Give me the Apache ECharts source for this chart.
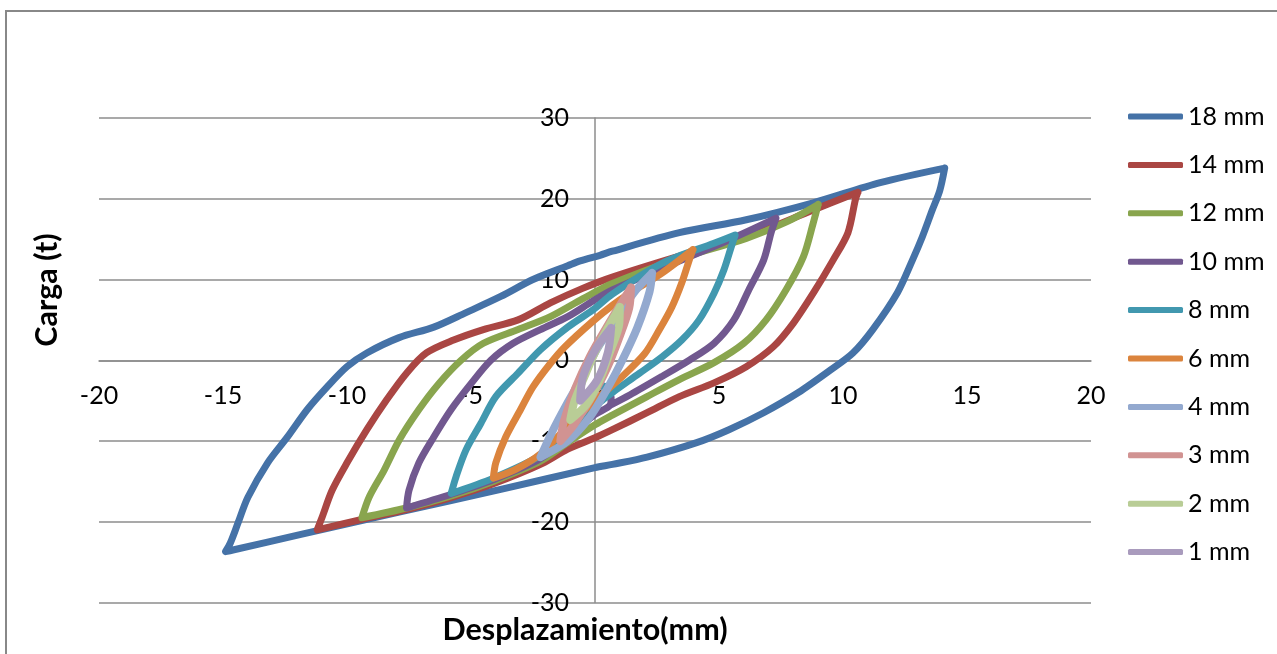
<!DOCTYPE html>
<html><head><meta charset="utf-8">
<script src="https://cdn.jsdelivr.net/npm/echarts/dist/echarts.min.js"></script>
<style>html,body{margin:0;padding:0;background:#fff}#c{width:1277px;height:654px}</style>
</head><body><div id="c"></div><script>
const xTicks=[-20,-15,-10,-5,0,5,10,15,20];
const yTicks=[-30,-20,-10,0,10,20,30];
const seriesNames=['18 mm','14 mm','12 mm','10 mm','8 mm','6 mm','4 mm','3 mm','2 mm','1 mm'];
const seriesColors=['#4572A7','#AA4643','#89A54E','#71588F','#4198AF','#DB843D','#93A9CF','#D19392','#B9CD96','#A99BBD'];
const loop18=[[14.1,23.8],[13.9,21.0],[13.6,18.6],[13.2,15.3],[12.8,12.4],[12.2,8.4],[11.2,3.8],[10.4,0.9],[9.5,-1.2],[8.2,-4.0],[6.8,-6.5],[5.4,-8.6],[4.1,-10.2],[2.1,-12.0],[0.7,-12.9],[0.0,-13.3],[-3.8,-16.0],[-7.9,-18.8],[-11.9,-21.6],[-14.6,-23.5],[-14.9,-23.7],[-14.7,-22.6],[-14.4,-20.2],[-14.0,-17.0],[-13.2,-12.7],[-12.4,-9.5],[-11.6,-6.1],[-10.8,-3.3],[-10.0,-0.8],[-9.2,0.9],[-7.9,2.8],[-6.5,4.1],[-5.2,5.9],[-3.8,7.9],[-2.5,10.0],[-1.1,11.7],[-0.6,12.3],[0.2,13.0],[0.7,13.5],[3.4,15.8],[6.1,17.4],[8.8,19.5],[11.5,22.0],[14.1,23.8]];
const loop14=[[10.6,20.8],[10.5,19.9],[10.2,15.8],[9.6,12.4],[8.8,8.3],[8.0,4.6],[7.2,1.7],[6.1,-0.8],[4.8,-2.8],[3.4,-4.5],[2.1,-6.5],[0.7,-8.6],[0.0,-9.6],[-1.1,-11.0],[-2.2,-12.9],[-4.1,-15.3],[-5.8,-17.0],[-7.6,-18.5],[-9.4,-19.7],[-11.2,-21.0],[-11.0,-19.4],[-10.6,-16.1],[-10.0,-12.7],[-9.2,-8.6],[-8.4,-4.9],[-7.6,-1.6],[-6.8,0.9],[-5.7,2.5],[-4.5,3.8],[-3.1,5.0],[-1.8,7.1],[-0.5,8.9],[0.7,10.3],[3.4,12.9],[6.1,15.3],[8.8,18.6],[10.6,20.8]];
const loop12=[[9.0,19.3],[8.8,17.0],[8.4,12.8],[7.7,8.7],[6.9,5.0],[6.0,2.1],[4.8,-0.3],[3.4,-2.4],[2.1,-4.5],[0.7,-6.8],[0.0,-8.0],[-1.1,-10.2],[-2.2,-12.5],[-4.1,-15.0],[-5.8,-16.8],[-7.6,-18.3],[-9.4,-19.5],[-9.1,-16.9],[-8.5,-13.6],[-7.9,-9.9],[-7.1,-6.1],[-6.3,-2.9],[-5.4,0.0],[-4.5,2.1],[-3.1,3.8],[-1.8,5.4],[-0.5,7.6],[0.7,9.5],[3.4,12.6],[6.1,15.1],[7.7,17.1],[9.0,19.3]];
const loop10=[[0.65,-4.6],[0.6,-5.6],[0.0,-6.7],[-1.1,-9.5],[-2.2,-12.2],[-4.1,-14.8],[-5.8,-16.6],[-7.6,-18.3],[-7.5,-16.1],[-7.1,-12.7],[-6.5,-9.5],[-5.8,-6.1],[-5.0,-2.9],[-4.2,0.0],[-3.3,2.1],[-2.2,3.8],[-1.1,5.4],[-0.1,7.3],[0.7,8.7],[3.4,12.3],[5.4,14.9],[7.3,17.6],[7.1,15.8],[6.8,12.4],[6.2,8.7],[5.6,5.0],[4.8,2.1],[3.8,0.0],[2.7,-2.0],[1.4,-4.3],[0.6,-5.6]];
const loop8=[[0.35,-3.2],[0.45,-4.4],[0.0,-5.6],[-1.1,-8.9],[-2.2,-11.8],[-4.1,-14.6],[-5.8,-16.5],[-5.6,-14.4],[-5.2,-11.1],[-4.6,-7.8],[-4.0,-4.5],[-3.1,-1.6],[-2.2,1.3],[-1.1,4.1],[-0.1,6.2],[0.7,8.2],[2.7,12.0],[4.8,14.5],[5.65,15.5],[5.5,14.1],[5.2,11.2],[4.8,8.3],[4.2,5.0],[3.5,2.5],[2.7,0.4],[1.8,-1.6],[0.7,-4.0],[0.0,-5.6]];
const loop6=[[3.95,13.7],[3.8,12.4],[3.5,9.6],[3.1,6.6],[2.6,3.8],[2.0,0.8],[1.0,-2.3],[0.0,-5.0],[-1.2,-8.5],[-2.2,-11.6],[-3.2,-13.5],[-4.1,-14.6],[-4.0,-12.7],[-3.6,-9.5],[-3.0,-6.1],[-2.5,-3.3],[-1.8,-0.4],[-1.2,1.7],[-0.1,4.8],[0.7,6.8],[1.4,8.3],[2.7,10.8],[3.95,13.7]];
const loop4=[[2.3,10.8],[2.2,8.5],[1.7,4.0],[1.1,0.0],[0.5,-3.5],[-0.2,-7.0],[-1.1,-10.0],[-2.2,-12.0],[-1.75,-9.0],[-1.15,-5.5],[-0.5,-2.0],[0.1,1.5],[0.85,5.0],[1.55,8.3],[2.3,10.8]];
const loop3=[[1.45,9.0],[1.38,6.5],[1.0,3.0],[0.48,-1.0],[-0.12,-4.5],[-0.85,-8.0],[-1.4,-10.0],[-1.25,-7.5],[-0.8,-3.5],[-0.2,0.5],[0.45,4.0],[1.0,6.8],[1.45,9.0]];
const loop2=[[1.0,6.6],[0.98,4.5],[0.6,1.0],[0.18,-2.5],[-0.35,-5.5],[-1.0,-7.4],[-0.82,-5.0],[-0.42,-2.0],[0.08,1.5],[0.55,4.2],[1.0,6.6]];
const loop1=[[0.65,4.0],[0.52,1.0],[0.08,-2.5],[-0.6,-5.0],[-0.48,-2.0],[0.05,1.5],[0.65,4.0]];
const loops=[loop18,loop14,loop12,loop10,loop8,loop6,loop4,loop3,loop2,loop1];
const widths=[7,7,7,7,7,7,8,8,8,8];

const FONT='Lato';
const GRID={left:99,right:186,top:118,bottom:51.5};
const W=1277,H=654;
const plotW=W-GRID.left-GRID.right, plotH=H-GRID.top-GRID.bottom;
const xRange=xTicks[xTicks.length-1]-xTicks[0], yRange=yTicks[yTicks.length-1]-yTicks[0];
// shift axes so they sit on the zero lines
const xAxisOffset=-(plotH*(0-yTicks[0])/yRange);
const yAxisOffset=-(plotW*(0-xTicks[0])/xRange);

const chart=echarts.init(document.getElementById('c'),null,{renderer:'canvas'});
chart.setOption({
  backgroundColor:'#fff',
  animation:false,
  grid:Object.assign({containLabel:false},GRID),
  xAxis:{type:'value',min:xTicks[0],max:xTicks[xTicks.length-1],interval:xTicks[1]-xTicks[0],
    position:'bottom',offset:xAxisOffset,
    axisLine:{onZero:false,lineStyle:{color:'#8c8c8c',width:1.5}},
    axisTick:{show:false},splitLine:{show:false},
    axisLabel:{margin:23,color:'#000',fontFamily:FONT,fontSize:25}},
  yAxis:{type:'value',min:yTicks[0],max:yTicks[yTicks.length-1],interval:yTicks[1]-yTicks[0],
    position:'left',offset:yAxisOffset,
    axisLine:{onZero:false,lineStyle:{color:'#8c8c8c',width:1.5}},
    axisTick:{show:false},
    splitLine:{show:true,lineStyle:{color:'#8c8c8c',width:1.5}},
    axisLabel:{margin:26,color:'#000',fontFamily:FONT,fontSize:25}},
  legend:{orient:'vertical',left:1123,top:99,itemWidth:55,itemHeight:6,itemGap:23.4,icon:'roundRect',
    textStyle:{fontFamily:FONT,fontSize:25,color:'#000'},data:seriesNames},
  graphic:[
    {type:'rect',silent:true,z:-10,shape:{x:6,y:11,width:1400,height:900},style:{fill:'none',stroke:'#888',lineWidth:2}},
    {type:'text',x:47,y:290,rotation:Math.PI/2,style:{text:'Carga (t)',fontFamily:FONT,fontWeight:'bold',fontSize:30.5,fill:'#000',align:'center',verticalAlign:'middle'}},
    {type:'text',x:585,y:630,style:{text:'Desplazamiento(mm)',fontFamily:FONT,fontWeight:'bold',fontSize:30.5,fill:'#000',align:'center',verticalAlign:'middle'}}
  ],
  series:loops.map((d,i)=>({
    name:seriesNames[i],type:'line',data:d,symbol:'none',showSymbol:false,smooth:0.3,
    color:seriesColors[i],
    lineStyle:{width:widths[i],color:seriesColors[i],cap:'round',join:'round'},
    itemStyle:{color:seriesColors[i]}
  }))
});
</script></body></html>
